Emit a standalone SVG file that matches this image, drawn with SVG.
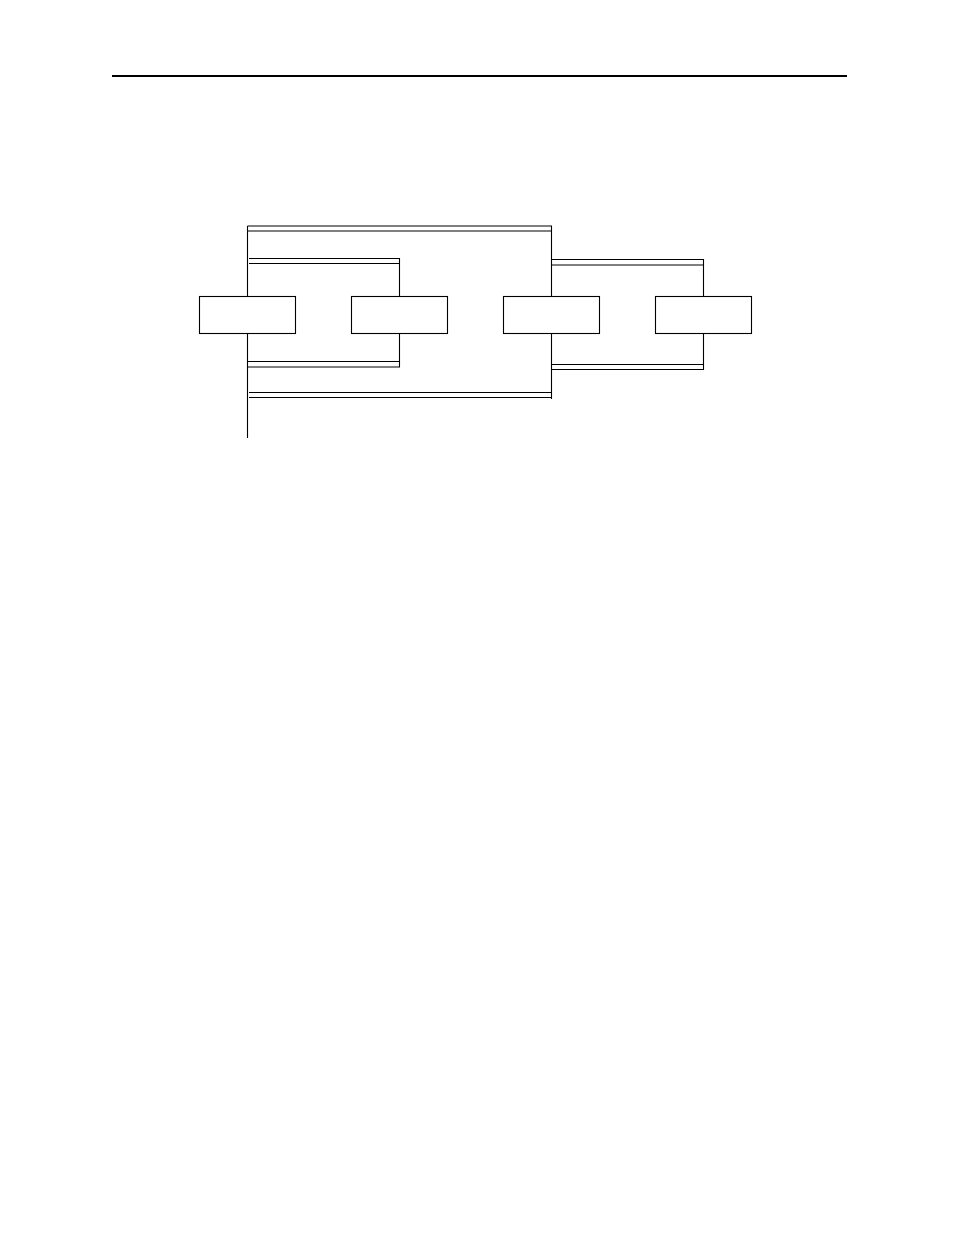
<svg xmlns="http://www.w3.org/2000/svg" width="954" height="1235" viewBox="0 0 954 1235">
<style>
.b{fill:#fff;stroke:#000;stroke-width:1.1}
.l{fill:none;stroke:#000;stroke-width:1.1}
</style>
<rect width="954" height="1235" fill="#fff"/>
<line x1="112" y1="76" x2="847" y2="76" stroke="#000" stroke-width="2"/>
<g id="connectors">
<!-- left trunk -->
<path class="l" d="M247.5,226 V438"/>
<!-- outer top bars -->
<path class="l" d="M247.5,226 H551.5 V296"/>
<path class="l" d="M247.5,231 H551.5"/>
<!-- inner top bars -->
<path class="l" d="M249,258.5 H399.5 V296"/>
<path class="l" d="M249,263.5 H399.5"/>
<!-- inner bottom bars -->
<path class="l" d="M399.5,333 V367 H247.5"/>
<path class="l" d="M247.5,361.5 H399.5"/>
<!-- outer bottom bars -->
<path class="l" d="M249,392.5 H551.5"/>
<path class="l" d="M249,397.5 H551.5"/>
<path class="l" d="M551.5,333 V399"/>
<!-- right top bars -->
<path class="l" d="M551.5,259.5 H703.5 V296"/>
<path class="l" d="M551.5,265 H703.5"/>
<!-- right bottom bars -->
<path class="l" d="M703.5,333 V369.5 H551.5"/>
<path class="l" d="M551.5,364.5 H703.5"/>
</g>
<g id="node1"><rect class="b" x="199.5" y="296.5" width="96" height="37"/></g>
<g id="node2"><rect class="b" x="351.5" y="296.5" width="96" height="37"/></g>
<g id="node3"><rect class="b" x="503.5" y="296.5" width="96" height="37"/></g>
<g id="node4"><rect class="b" x="655.5" y="296.5" width="96" height="37"/></g>
</svg>
